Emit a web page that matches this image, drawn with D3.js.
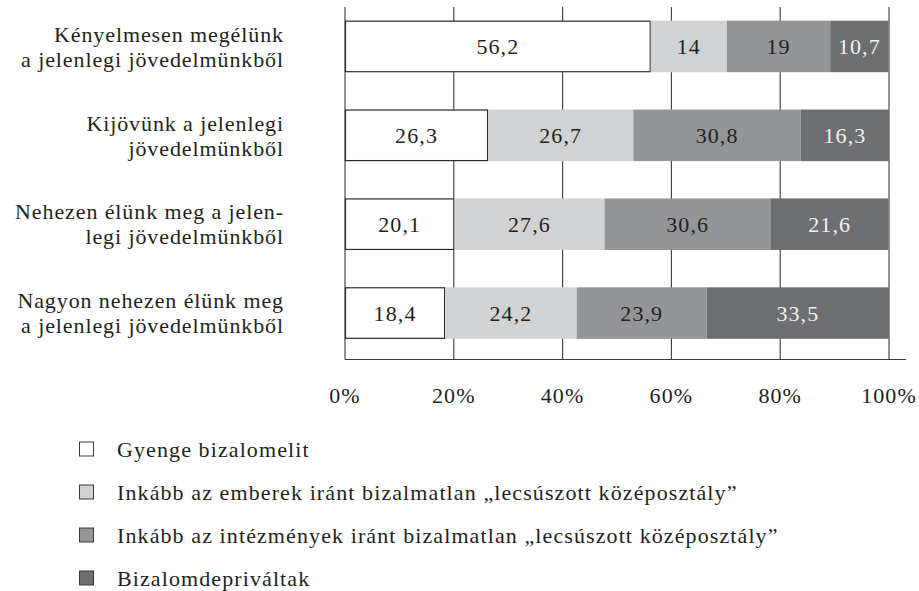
<!DOCTYPE html>
<html><head><meta charset="utf-8">
<script src="https://cdn.jsdelivr.net/npm/d3@7"></script>
<style>body{margin:0;background:#fff}svg{display:block}</style>
</head><body><svg id="c" width="919" height="591"></svg>
<script>
const categories = [
  ["Kényelmesen megélünk", "a jelenlegi jövedelmünkből"],
  ["Kijövünk a jelenlegi", "jövedelmünkből"],
  ["Nehezen élünk meg a jelen-", "legi jövedelmünkből"],
  ["Nagyon nehezen élünk meg", "a jelenlegi jövedelmünkből"]
];
const seriesNames = [
  "Gyenge bizalomelit",
  "Inkább az emberek iránt bizalmatlan \u201Elecsúszott középosztály\u201D",
  "Inkább az intézmények iránt bizalmatlan \u201Elecsúszott középosztály\u201D",
  "Bizalomdepriváltak"
];
const gyenge = [56.2, 26.3, 20.1, 18.4];
const emberek = [14, 26.7, 27.6, 24.2];
const intezmenyek = [19, 30.8, 30.6, 23.9];
const depr = [10.7, 16.3, 21.6, 33.5];
const tickValues = [0, 20, 40, 60, 80, 100];

const series = [gyenge, emberek, intezmenyek, depr];
const colors = ["#ffffff", "#d1d2d4", "#939598", "#6d6e71"];
const textColors = ["#231f20", "#231f20", "#231f20", "#f2f2f2"];
const FONT = "'Liberation Serif', 'Times New Roman', serif";
const FS = 22, LS = 1.1;

const svg = d3.select("#c").attr("font-family", FONT);
const x = d3.scaleLinear().domain([0, 100]).range([345, 889]);
const y = d3.scaleBand().domain(d3.range(categories.length)).range([2, 357.5]).paddingInner(0.42).paddingOuter(0.21);

svg.append("g").selectAll("line").data(tickValues).join("line")
  .attr("x1", d => x(d)).attr("x2", d => x(d)).attr("y1", 7).attr("y2", 359.5)
  .attr("stroke", "#3a3a3a").attr("stroke-width", 1.1);
svg.append("line").attr("x1", x(0)).attr("x2", 906).attr("y1", 359.5).attr("y2", 359.5)
  .attr("stroke", "#3a3a3a").attr("stroke-width", 1.1);

const rows = categories.map((c, i) => {
  let acc = 0;
  return series.map((s, k) => { const v = s[i]; const r = {i, k, v, x0: acc, x1: acc + v}; acc += v; return r; });
});
const segs = rows.flat();
const g = svg.append("g");
g.selectAll("rect").data(segs).join("rect")
  .attr("x", d => x(d.x0) + (d.k === 0 ? 0.5 : 0))
  .attr("y", d => y(d.i) + (d.k === 0 ? 0.5 : 0))
  .attr("width", d => Math.max(0, x(Math.min(d.x1, 100)) - x(d.x0) - (d.k === 0 ? 1 : 0)))
  .attr("height", d => y.bandwidth() - (d.k === 0 ? 1 : 0))
  .attr("fill", d => colors[d.k])
  .attr("stroke", d => d.k === 0 ? "#2a2a2a" : "none")
  .attr("stroke-width", 1.2);
g.selectAll("text").data(segs).join("text")
  .attr("x", d => (x(d.x0) + x(Math.min(d.x1, 100))) / 2)
  .attr("y", d => y(d.i) + y.bandwidth() / 2)
  .attr("dy", "0.35em").attr("text-anchor", "middle")
  .attr("font-size", FS).attr("letter-spacing", LS)
  .attr("fill", d => textColors[d.k])
  .text(d => String(d.v).replace(".", ","));

const cl = svg.append("g").attr("fill", "#231f20").attr("font-size", FS).attr("letter-spacing", 0.9);
categories.forEach((c, i) => {
  const cy = y(i) + y.bandwidth() / 2;
  cl.append("text").attr("x", 284).attr("y", cy - 12.5).attr("dy", "0.35em").attr("text-anchor", "end").text(c[0]);
  cl.append("text").attr("x", 284).attr("y", cy + 12.5).attr("dy", "0.35em").attr("text-anchor", "end").text(c[1]);
});

svg.append("g").attr("fill", "#231f20").attr("font-size", FS).attr("letter-spacing", LS)
  .selectAll("text").data(tickValues).join("text")
  .attr("x", d => x(d)).attr("y", 395).attr("dy", "0.35em").attr("text-anchor", "middle")
  .text(d => d + "%");

const lg = svg.append("g").attr("fill", "#231f20").attr("font-size", FS).attr("letter-spacing", LS);
const legendY = [449, 492, 535, 578];
seriesNames.forEach((n, k) => {
  lg.append("rect").attr("x", 79.5).attr("y", legendY[k] - 7).attr("width", 14).attr("height", 14)
    .attr("fill", colors[k]).attr("stroke", "#3a3a3a").attr("stroke-width", 1);
  lg.append("text").attr("x", 117).attr("y", legendY[k]).attr("dy", "0.35em").text(n);
});
</script></body></html>
